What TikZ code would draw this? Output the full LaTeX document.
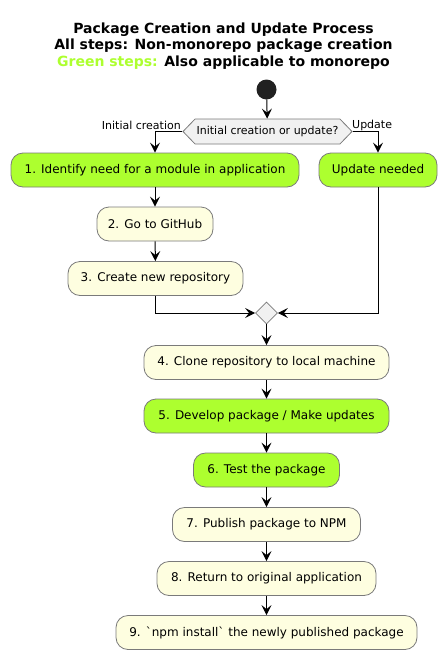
\documentclass[tikz,border=0pt]{standalone}
\usepackage{fontspec}
\setmainfont{DejaVu Sans}
\newfontfamily\rawfont{DejaVu Sans}[Ligatures=ResetAll]
\usetikzlibrary{arrows.meta,shapes.symbols,shapes.geometric}
\definecolor{stepgreen}{HTML}{ADFF2F}
\definecolor{stepbeige}{HTML}{FEFEE0}
\definecolor{stepborder}{HTML}{7A7A7A}
\definecolor{decfill}{HTML}{F1F1F1}
\begin{document}
\begin{tikzpicture}[x=1pt,y=-1pt,
  actbox/.style={draw=stepborder, line width=0.8pt, rounded corners=12pt, minimum height=34pt, inner sep=0pt, font=\fontsize{12}{14}\selectfont, anchor=center},
  greenbox/.style={actbox, fill=stepgreen},
  beigebox/.style={actbox, fill=stepbeige},
  flow/.style={line width=1pt, -{Stealth[length=10pt,width=10pt,inset=4pt]}},
  lbl/.style={font=\fontsize{11}{13}\selectfont, inner sep=0pt},
  ttl/.style={font=\fontsize{14}{16}\selectfont\bfseries, inner sep=0pt, anchor=base}
]
\useasboundingbox (0,0) rectangle (447,659);
\fill[white] (0,0) rectangle (447,659);

% title
\node[ttl] (t1) at (223.5,33.3) {Package Creation and Update Process};
\node[ttl] (t2) at (223.5,49.5) {All steps: Non-monorepo package creation};
\node[ttl] (t3) at (223.5,66) {\textcolor{stepgreen}{Green steps:} Also applicable to monorepo};

% start
\node[circle, fill=black!87, minimum size=20pt, inner sep=0pt] (start) at (266.5,89.5) {};

% decision
\node[signal, signal to=west and east, signal pointer angle=92, draw=stepborder, fill=decfill, line width=0.8pt,
      minimum width=169pt, minimum height=25pt, inner sep=0pt, font=\fontsize{11}{13}\selectfont] (dec) at (267.5,131.5) {Initial creation or update?};

% steps
\node[greenbox, minimum width=288pt] (s1) at (155,170) {1. Identify need for a module in application};
\node[greenbox, minimum width=118pt] (upd) at (378,170) {Update needed};
\node[beigebox, minimum width=116pt] (s2) at (155,224) {2. Go to GitHub};
\node[beigebox, minimum width=175pt] (s3) at (155.5,278.5) {3. Create new repository};
\node[diamond, draw=stepborder, fill=decfill, line width=0.8pt, minimum width=22pt, minimum height=22pt, inner sep=0pt] (merge) at (266.5,313) {};
\node[beigebox, minimum width=245pt] (s4) at (266.5,362.5) {4. Clone repository to local machine};
\node[greenbox, minimum width=245pt] (s5) at (266.5,416) {5. Develop package / Make updates};
\node[greenbox, minimum width=146pt] (s6) at (266.5,470) {6. Test the package};
\node[beigebox, minimum width=188pt] (s7) at (266.5,524.5) {7. Publish package to NPM};
\node[beigebox, minimum width=219pt] (s8) at (266.5,578.5) {8. Return to original application};
\node[beigebox, minimum width=301pt] (s9) at (266.5,632.5) {{\rawfont 9. `npm install` the newly published package}};

% connectors
\draw[flow] (start) -- (dec);
\draw[flow] (dec.west) -| (s1.north);
\draw[flow] (dec.east) -| (upd.north);
\node[lbl, anchor=east] (linit) at (181,125) {Initial creation};
\node[lbl, anchor=west] (lupd) at (352,125) {Update};
\draw[flow] (s1) -- (s2);
\draw[flow] (s2) -- (s3);
\draw[flow] (s3.south) |- (merge.west);
\draw[flow] (upd.south) |- (merge.east);
\draw[flow] (merge) -- (s4);
\draw[flow] (s4) -- (s5);
\draw[flow] (s5) -- (s6);
\draw[flow] (s6) -- (s7);
\draw[flow] (s7) -- (s8);
\draw[flow] (s8) -- (s9);
\end{tikzpicture}
\end{document}
